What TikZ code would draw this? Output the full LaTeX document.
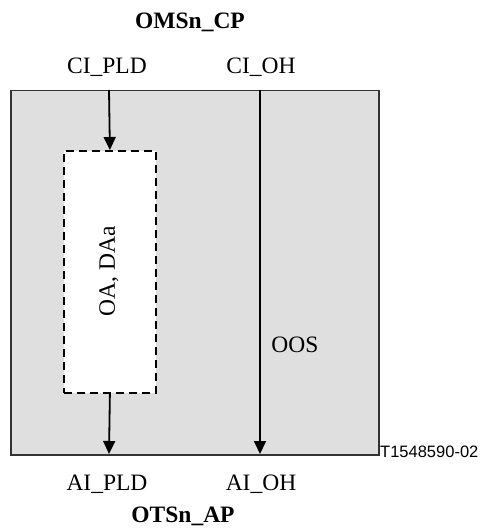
\documentclass[tikz,border=0pt]{standalone}
\usepackage{fontspec}
\setmainfont{Liberation Serif}
\newfontfamily\labelsans{Liberation Sans}
\usetikzlibrary{arrows.meta}
\definecolor{boxgray}{HTML}{DFDFDF}
\tikzset{
  lbl/.style={inner sep=0pt, font=\fontsize{23.5}{25}\selectfont},
  title/.style={inner sep=0pt, font=\fontsize{23.5}{25}\selectfont\bfseries},
  sig/.style={line width=1.8pt, -{Triangle[width=12pt,length=13pt]}},
}
\begin{document}
\begin{tikzpicture}[x=1pt,y=-1pt]
\useasboundingbox (0,0) rectangle (479,529);
\node[draw=black!80, line width=1.5pt, fill=boxgray, minimum width=368pt, minimum height=364pt, anchor=north west, inner sep=0pt] (outer) at (10,90) {};
\node[draw, dashed, dash pattern=on 8pt off 5pt, line width=1.8pt, fill=white, minimum width=92pt, minimum height=242pt, anchor=north west, inner sep=0pt] (oa) at (63,150) {};
\node[lbl, rotate=90] (oalbl) at (109,271) {OA, DAa};
\node[title] (top) at (190,22) {OMSn\_CP};
\node[lbl] (cipld) at (107,67) {CI\_PLD};
\node[lbl] (cioh) at (261,67) {CI\_OH};
\node[lbl] (aipld) at (107,484) {AI\_PLD};
\node[lbl] (aioh) at (261,484) {AI\_OH};
\node[title] (bot) at (183,516) {OTSn\_AP};
\node[lbl] (oos) at (295,345) {OOS};
\node[inner sep=0pt, anchor=west, font=\labelsans\fontsize{16.5}{18}\selectfont] (tag) at (380,452) {T1548590-02};
\coordinate (c1) at (109,90);
\coordinate (c2) at (109,454);
\coordinate (c3) at (260,90);
\coordinate (c4) at (260,454);
\draw[sig] (c1) -- (oa.north);
\draw[sig] (oa.south) -- (c2);
\draw[sig] (c3) -- (c4);
\end{tikzpicture}
\end{document}
